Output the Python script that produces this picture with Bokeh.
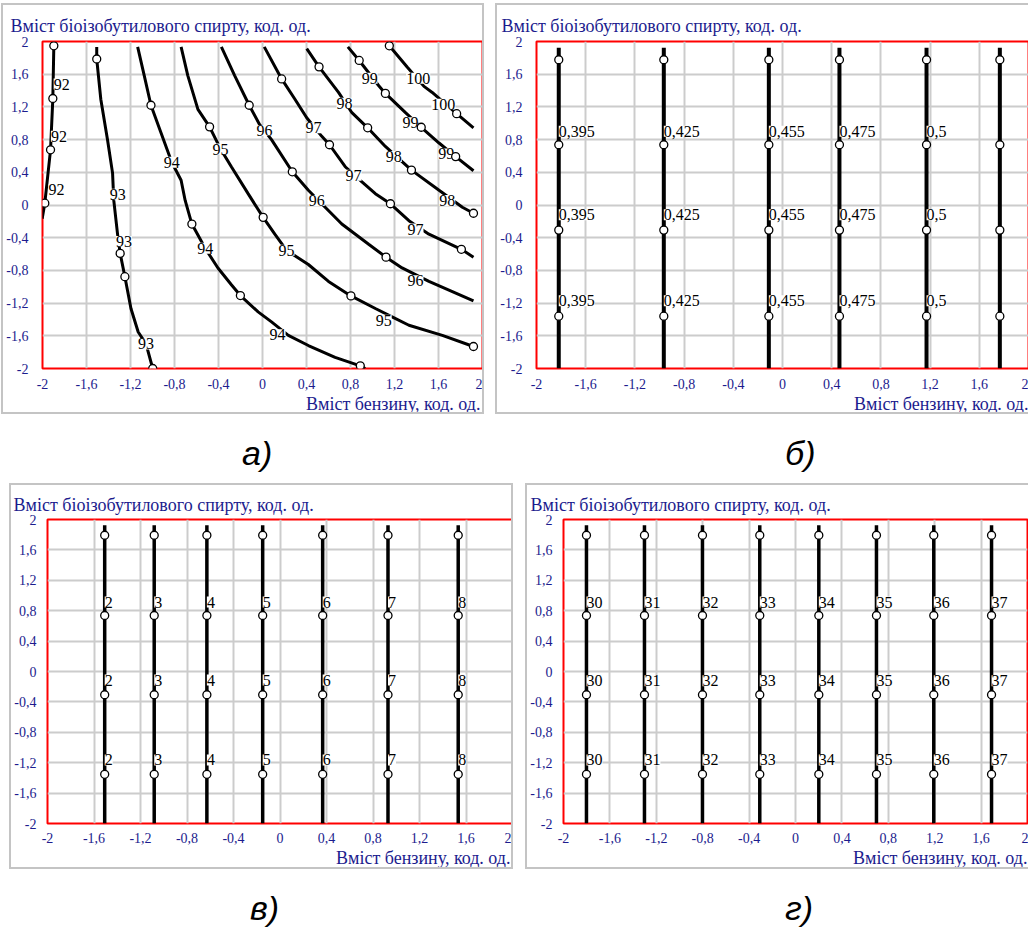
from bokeh.plotting import figure
from bokeh.layouts import row, column
from bokeh.models import FixedTicker, Title, Div, Range1d
from bokeh.core.properties import value
from bokeh.embed import file_html
from bokeh.resources import INLINE

# ---------------- data ----------------
ticks = [-2, -1.6, -1.2, -0.8, -0.4, 0, 0.4, 0.8, 1.2, 1.6, 2]
tick_labels = ["-2", "-1,6", "-1,2", "-0,8", "-0,4", "0", "0,4", "0,8", "1,2", "1,6", "2"]
y_title = "Вміст біоізобутилового спирту, код. од."
x_title = "Вміст бензину, код. од."
captions = ["а)", "б)", "в)", "г)"]

# panel a) : contour lines (octane number)
lvl92_x = [-1.897, -1.906, -1.927, -1.979, -2.003]
lvl92_y = [1.947, 1.303, 0.675, 0.022, -0.167]
lvl93_x = [-1.507, -1.507, -1.470, -1.409, -1.363, -1.352, -1.318, -1.294, -1.251, -1.196, -1.130, -1.059, -0.998]
lvl93_y = [1.934, 1.786, 1.294, 0.799, 0.390, 0.056, -0.353, -0.592, -0.877, -1.266, -1.554, -1.699, -2.0]
lvl94_x = [-1.135, -1.075, -1.014, -0.922, -0.825, -0.740, -0.703, -0.642, -0.521, -0.405, -0.283, -0.201, -0.040, 0.082, 0.235, 0.417, 0.660, 0.889, 0.934]
lvl94_y = [1.934, 1.583, 1.220, 0.882, 0.523, 0.303, 0.056, -0.233, -0.530, -0.770, -0.976, -1.108, -1.307, -1.430, -1.595, -1.719, -1.864, -1.967, -2.0]
lvl95_x = [-0.740, -0.679, -0.587, -0.481, -0.381, -0.283, -0.131, 0.006, 0.112, 0.219, 0.417, 0.600, 0.804, 1.026, 1.178, 1.331, 1.635, 1.918]
lvl95_y = [1.934, 1.583, 1.170, 0.956, 0.684, 0.468, 0.139, -0.151, -0.357, -0.555, -0.728, -0.935, -1.112, -1.266, -1.368, -1.471, -1.595, -1.731]
lvl96_x = [-0.374, -0.253, -0.121, -0.027, 0.082, 0.271, 0.417, 0.554, 0.721, 0.965, 1.123, 1.269, 1.513, 1.726, 1.918]
lvl96_y = [1.934, 1.583, 1.220, 0.985, 0.799, 0.406, 0.180, -0.006, -0.233, -0.480, -0.638, -0.770, -0.935, -1.059, -1.174]
lvl97_x = [0.016, 0.174, 0.295, 0.402, 0.539, 0.609, 0.752, 0.904, 1.026, 1.163, 1.331, 1.513, 1.808, 1.918]
lvl97_y = [1.934, 1.542, 1.294, 1.067, 0.840, 0.737, 0.468, 0.282, 0.139, 0.015, -0.192, -0.357, -0.542, -0.638]
lvl98_x = [0.402, 0.514, 0.691, 0.813, 0.956, 1.117, 1.269, 1.354, 1.605, 1.817, 1.918]
lvl98_y = [1.913, 1.690, 1.377, 1.129, 0.944, 0.716, 0.530, 0.427, 0.180, -0.027, -0.101]
lvl99_x = [0.776, 0.879, 1.057, 1.117, 1.300, 1.443, 1.605, 1.756, 1.918]
lvl99_y = [1.934, 1.768, 1.459, 1.365, 1.129, 0.951, 0.758, 0.592, 0.419]
lvl100_x = [1.153, 1.315, 1.468, 1.543, 1.765, 1.918]
lvl100_y = [1.947, 1.687, 1.451, 1.377, 1.117, 0.944]

a_marker_x = [-1.897, -1.906, -1.927, -1.979, -1.507, -1.294, -1.251, -0.998, -1.014, -0.642, -0.201, 0.889,
              -0.481, 0.006, 0.804, 1.918, -0.121, 0.271, 1.123, 0.174, 0.609, 1.163, 1.808,
              0.514, 0.956, 1.354, 1.918, 0.879, 1.117, 1.443, 1.756, 1.153, 1.765]
a_marker_y = [1.947, 1.303, 0.675, 0.022, 1.786, -0.592, -0.877, -2.0, 1.220, -0.233, -1.108, -1.967,
              0.956, -0.151, -1.112, -1.731, 1.220, 0.406, -0.638, 1.542, 0.737, 0.015, -0.542,
              1.690, 0.944, 0.427, -0.101, 1.768, 1.365, 0.951, 0.592, 1.947, 1.117]

a_label_text = ["92", "92", "92", "93", "93", "93", "94", "94", "94", "95", "95", "95",
                "96", "96", "96", "97", "97", "97", "98", "98", "98", "99", "99", "99", "100", "100"]
a_label_x = [-1.826, -1.851, -1.872, -1.315, -1.260, -1.059, -0.825, -0.521, 0.137, -0.381, 0.219, 1.102,
             0.018, 0.493, 1.391, 0.463, 0.828, 1.391, 0.746, 1.194, 1.680, 0.974, 1.345, 1.671, 1.416, 1.644]
a_label_y = [1.480, 0.840, 0.188, 0.130, -0.448, -1.699, 0.523, -0.530, -1.588, 0.684, -0.555, -1.409,
             0.910, 0.056, -0.926, 0.944, 0.365, -0.295, 1.245, 0.592, 0.056, 1.550, 1.006, 0.625, 1.550, 1.232]

# panel б)
b_line_x = [-1.819, -0.965, -0.111, 0.463, 1.171, 1.767]
b_labels = ["0,395", "0,425", "0,455", "0,475", "0,5", ""]
b_marker_y = [1.777, 0.737, -0.307, -1.360]
b_label_y = [0.902, -0.118, -1.170]

# panel в)
c_line_x = [-1.508, -1.082, -0.629, -0.149, 0.367, 0.929, 1.533]
c_labels = ["2", "3", "4", "5", "6", "7", "8"]
c_marker_y = [1.793, 0.737, -0.306, -1.353]
c_label_y = [0.913, -0.112, -1.164]

# panel г)
d_line_x = [-1.802, -1.302, -0.802, -0.308, 0.201, 0.698, 1.192, 1.690]
d_labels = ["30", "31", "32", "33", "34", "35", "36", "37"]
d_marker_y = [1.793, 0.737, -0.306, -1.353]
d_label_y = [0.913, -0.121, -1.164]

line_top = 1.925

# ---------------- style ----------------
NAVY = "#1c1c8e"
SERIF = "Liberation Serif"
GRAY_BOX = "2px solid #c4c4c4"


def make_panel(w, h, ml, mr, mt, mb, css, ytitle_off, xtitle_off, xstand, ystand, tstand, bstand, valign):
    p = figure(width=w, height=h, x_range=Range1d(-2, 2), y_range=Range1d(-2, 2),
               output_backend="svg", toolbar_location=None,
               min_border_left=ml, min_border_right=mr, min_border_top=mt, min_border_bottom=mb,
               styles=css)
    p.outline_line_color = "red"
    p.outline_line_width = 2
    p.outline_line_alpha = 1
    p.background_fill_color = "white"
    p.border_fill_color = "white"
    overrides = {float(t): l for t, l in zip(ticks, tick_labels)}
    for ax in (p.xaxis[0], p.yaxis[0]):
        ax.ticker = FixedTicker(ticks=ticks)
        ax.major_label_overrides = overrides
        ax.axis_line_color = None
        ax.major_tick_line_color = None
        ax.minor_tick_line_color = None
        ax.major_label_text_font = SERIF
        ax.major_label_text_font_size = "14px"
        ax.major_label_text_color = NAVY
    p.xaxis.major_label_standoff = xstand
    p.yaxis.major_label_standoff = ystand
    p.grid.grid_line_color = "#cccccc"
    p.grid.grid_line_width = 2
    p.title.text = y_title
    p.title.align = "left"
    p.title.offset = ytitle_off
    p.title.standoff = tstand
    p.title.text_font = SERIF
    p.title.text_font_size = "18px"
    p.title.text_font_style = "normal"
    p.title.text_color = NAVY
    p.add_layout(Title(text=x_title, align="right", vertical_align=valign,
                       offset=xtitle_off, standoff=bstand,
                       text_font=SERIF, text_font_size="18px", text_font_style="normal",
                       text_color=NAVY), "below")
    return p


full_css = {"border": GRAY_BOX, "box-sizing": "content-box"}
open_css = {"border-left": GRAY_BOX, "border-top": GRAY_BOX, "border-bottom": GRAY_BOX,
            "box-sizing": "content-box"}

# ----- panel a
pa = make_panel(479, 407, 37, 4, 36, 48, full_css, -32, 2, 4, 8, 12, 2, "middle")
levels_x = [lvl92_x, lvl93_x, lvl94_x, lvl95_x, lvl96_x, lvl97_x, lvl98_x, lvl99_x, lvl100_x]
levels_y = [lvl92_y, lvl93_y, lvl94_y, lvl95_y, lvl96_y, lvl97_y, lvl98_y, lvl99_y, lvl100_y]
pa.multi_line(xs=levels_x, ys=levels_y, line_color="black", line_width=3)
pa.text(x=a_label_x, y=a_label_y, text=a_label_text, text_font=value(SERIF), text_font_size="16px",
        text_color="black", text_align="center", text_baseline="middle",
        background_fill_color="white")
pa.scatter(x=a_marker_x, y=a_marker_y, marker="circle", size=8, fill_color="white",
           line_color="black", line_width=1.3)


def vertical_panel(p, line_x, labels, marker_y, label_y, lw):
    xs = [[x, x] for x in line_x]
    ys = [[line_top, -2.0] for _ in line_x]
    p.multi_line(xs=xs, ys=ys, line_color="black", line_width=lw)
    tx, ty, tt = [], [], []
    for x, t in zip(line_x, labels):
        if not t:
            continue
        for y in label_y:
            tx.append(x)
            ty.append(y)
            tt.append(t)
    p.text(x=tx, y=ty, text=tt, text_font=value(SERIF), text_font_size="16px",
           text_color="black", text_align="left", text_baseline="middle",
           background_fill_color="white")
    mx = [x for x in line_x for _ in marker_y]
    my = [y for _ in line_x for y in marker_y]
    p.scatter(x=mx, y=my, marker="circle", size=8, fill_color="white",
              line_color="black", line_width=1.3)


pb = make_panel(531, 407, 37, 2, 36, 48, open_css, -35, 0, 4, 8, 12, 2, "middle")
vertical_panel(pb, b_line_x, b_labels, b_marker_y, b_label_y, 4)

pc = make_panel(500, 382, 34, 3, 34, 45, full_css, -34, 2, 3, 5, 9, 4, "top")
vertical_panel(pc, c_line_x, c_labels, c_marker_y, c_label_y, 3.5)

pd = make_panel(501, 382, 34, 3, 34, 45, open_css, -33, 0, 3, 5, 9, 4, "top")
vertical_panel(pd, d_line_x, d_labels, d_marker_y, d_label_y, 3.5)


def caption_row(h, left1, left2, t1, t2):
    html = (f'<div style="position:relative;width:1030px;height:{h}px;'
            f"font-family:'Liberation Sans',Arial,sans-serif;font-style:italic;font-size:34px;"
            f'line-height:40px;color:#000">'
            f'<span style="position:absolute;left:{left1}px;top:19px">{t1}</span>'
            f'<span style="position:absolute;left:{left2}px;top:19px">{t2}</span></div>')
    return Div(text=html, width=1030, height=h, margin=0)


cap1 = caption_row(69, 242, 785, captions[0], captions[1])
cap2 = caption_row(55, 250, 785, captions[2], captions[3])

row1 = row(pa, pb, spacing=11, margin=(0, 0, 0, 1))
row2 = row(pc, pd, spacing=12, margin=(0, 0, 0, 9))
layout = column(row1, cap1, row2, cap2, spacing=0, margin=(3, 0, 0, 0))

open("out.html", "w").write(file_html(layout, INLINE))
